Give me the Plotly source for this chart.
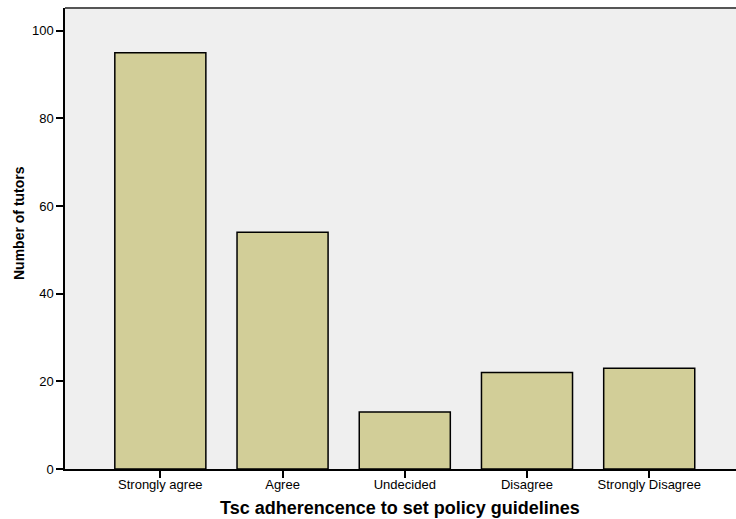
import plotly.graph_objects as go

# Survey responses
categories = ["Strongly agree", "Agree", "Undecided", "Disagree", "Strongly Disagree"]
tutor_counts = [95, 54, 13, 22, 23]
y_tick_values = [0, 20, 40, 60, 80, 100]

W, H = 736, 519
M_L, M_R, M_T, M_B = 65, 0, 8, 50
plot_w = W - M_L - M_R
plot_h = H - M_T - M_B

fig = go.Figure(
    go.Bar(
        x=categories,
        y=tutor_counts,
        width=0.745,
        marker=dict(color="#D2CE98", line=dict(color="#000000", width=1.5)),
        hoverinfo="x+y",
    )
)

font_family = "Liberation Sans, Arial, sans-serif"

fig.update_layout(
    width=W,
    height=H,
    margin=dict(l=M_L, r=M_R, t=M_T, b=M_B),
    paper_bgcolor="#FFFFFF",
    plot_bgcolor="#EFEFEF",
    showlegend=False,
    font=dict(family=font_family, size=13, color="#000000"),
    xaxis=dict(
        type="category",
        range=[-0.78, 4.71],
        showgrid=False,
        zeroline=False,
        showline=True,
        linecolor="#000000",
        linewidth=1.5,
        ticks="outside",
        ticklen=7,
        tickwidth=1.5,
        tickcolor="#000000",
        tickfont=dict(size=13),
        ticklabelstandoff=-4,
    ),
    yaxis=dict(
        range=[0, 105.2],
        tickvals=y_tick_values,
        showgrid=False,
        zeroline=False,
        showline=True,
        linecolor="#000000",
        linewidth=1.5,
        ticks="outside",
        ticklen=7,
        tickwidth=1.5,
        tickcolor="#000000",
        tickfont=dict(size=13),
    ),
    shapes=[
        dict(
            type="line", xref="paper", yref="paper",
            x0=0, x1=1, y0=1, y1=1,
            line=dict(color="#555555", width=2),
        )
    ],
    annotations=[
        dict(
            text="<b>Tsc adherencence to set policy guidelines</b>",
            xref="paper", yref="paper",
            x=(400 - M_L) / plot_w, y=(H - M_B - 508) / plot_h,
            xanchor="center", yanchor="middle",
            showarrow=False,
            font=dict(size=18, family=font_family),
        ),
        dict(
            text="<b>Number of tutors</b>",
            xref="paper", yref="paper",
            x=(19 - M_L) / plot_w, y=(H - M_B - 223) / plot_h,
            xanchor="center", yanchor="middle",
            textangle=-90,
            showarrow=False,
            font=dict(size=14, family=font_family),
        ),
    ],
)

fig.write_html("out.html")
